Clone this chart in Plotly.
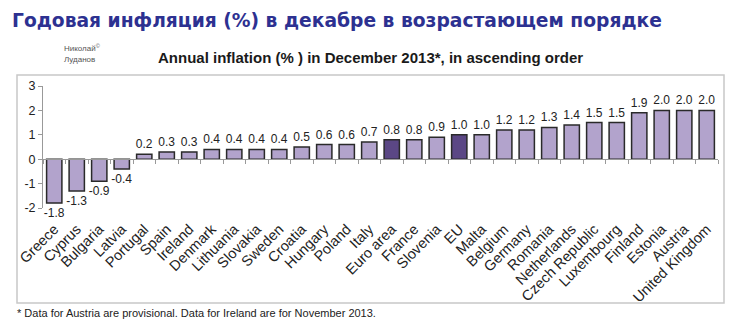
import plotly.graph_objects as go

countries = ["Greece", "Cyprus", "Bulgaria", "Latvia", "Portugal", "Spain", "Ireland",
             "Denmark", "Lithuania", "Slovakia", "Sweden", "Croatia", "Hungary", "Poland",
             "Italy", "Euro area", "France", "Slovenia", "EU", "Malta", "Belgium", "Germany",
             "Romania", "Netherlands", "Czech Republic", "Luxembourg", "Finland", "Estonia",
             "Austria", "United Kingdom"]
values = [-1.8, -1.3, -0.9, -0.4, 0.2, 0.3, 0.3, 0.4, 0.4, 0.4, 0.4, 0.5, 0.6, 0.6,
          0.7, 0.8, 0.8, 0.9, 1.0, 1.0, 1.2, 1.2, 1.3, 1.4, 1.5, 1.5, 1.9, 2.0, 2.0, 2.0]
highlight = ["Euro area", "EU"]
y_ticks = [-2, -1, 0, 1, 2, 3]

W, H = 739, 333
L, R, T, B = 43, 21, 86, 125
pw, ph = W - L - R, H - T - B

def px(x):
    return (x - L) / pw

def py(y):
    return (H - B - y) / ph

light = "#b2a3cc"
dark = "#5b4785"
colors = [dark if c in highlight else light for c in countries]

fig = go.Figure()
fig.add_trace(go.Bar(
    x=list(range(len(countries))), y=values,
    marker=dict(color=colors, line=dict(color="#2a2a2a", width=1.5)),
    width=0.68,
    text=[f"{v:.1f}" for v in values], textposition="outside",
    textfont=dict(family="Liberation Sans, Arial", size=12, color="#222"),
    constraintext="none", cliponaxis=False, hoverinfo="skip",
))
fig.add_trace(go.Scatter(x=[-0.5, 29.5], y=[0, 0], xaxis="x2", mode="lines",
                         line=dict(width=0), hoverinfo="skip", showlegend=False))

fig.update_layout(
    width=W, height=H, margin=dict(l=L, r=R, t=T, b=B),
    paper_bgcolor="white", plot_bgcolor="white", showlegend=False,
    font=dict(family="Liberation Sans, Arial", size=12, color="#222"),
    xaxis=dict(range=[-0.5, len(countries) - 0.5], tickmode="array",
               tickvals=list(range(len(countries))), ticktext=countries,
               tickangle=-45, showline=False, ticks="", showgrid=False, zeroline=False,
               ticklabelstandoff=9,
               tickfont=dict(size=14.5, color="#222")),
    xaxis2=dict(range=[-0.5, len(countries) - 0.5], overlaying="x", anchor="free",
                position=0.4, showline=True, linecolor="#999", linewidth=1,
                ticks="outside", ticklen=4, tickcolor="#999", tickmode="array",
                tickvals=[i - 0.5 for i in range(len(countries) + 1)],
                showticklabels=False, showgrid=False, zeroline=False),
    yaxis=dict(range=[-2, 3], tickmode="array", tickvals=y_ticks,
               ticktext=[str(t) for t in y_ticks], showline=True,
               linecolor="#999", ticks="outside", ticklen=4, tickcolor="#999",
               showgrid=False, zeroline=False, tickfont=dict(size=12.5, color="#222")),
)

fig.add_shape(type="rect", xref="paper", yref="paper",
              x0=px(17), x1=px(724), y0=py(303), y1=py(75),
              line=dict(color="#c8c8c8", width=1.5), fillcolor="rgba(0,0,0,0)", layer="below")

anns = [
    dict(text="<b>Годовая инфляция (%) в декабре в возрастающем порядке</b>",
         x=px(10), y=py(20), xanchor="left", yanchor="middle",
         font=dict(family="DejaVu Sans", size=18.7, color="#2d3191")),
    dict(text="<b>Annual inflation (% ) in December 2013*, in ascending order</b>",
         x=px(370), y=py(57), xanchor="center", yanchor="middle",
         font=dict(family="Liberation Sans, Arial", size=15, color="#1a1a1a")),
    dict(text="Николай<sup>©</sup>", x=px(62), y=py(48), xanchor="left", yanchor="middle",
         font=dict(family="Liberation Sans, Arial", size=8, color="#555")),
    dict(text="Луданов", x=px(62), y=py(59), xanchor="left", yanchor="middle",
         font=dict(family="Liberation Sans, Arial", size=8, color="#555")),
    dict(text="* Data for Austria are provisional. Data for Ireland are for November 2013.",
         x=px(15), y=py(313), xanchor="left", yanchor="middle",
         font=dict(family="Liberation Sans, Arial", size=11, color="#222")),
]
for a in anns:
    fig.add_annotation(xref="paper", yref="paper", showarrow=False, **a)

fig.write_html("out.html")
